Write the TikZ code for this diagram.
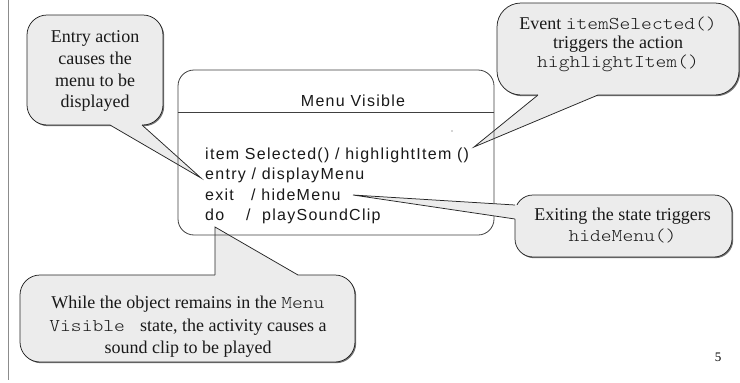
\documentclass[tikz,border=0pt]{standalone}
\usepackage{fontspec}
\setmainfont{Liberation Serif}
\setsansfont{Liberation Sans}
\setmonofont[FakeStretch=1.14]{lmmonolt10-regular.otf}
\newfontfamily\statefont[LetterSpace=8]{Liberation Sans}
\usetikzlibrary{calc,shadows}
\definecolor{calfill}{HTML}{ECECEC}
\definecolor{calline}{HTML}{262626}
\definecolor{stateline}{HTML}{404040}
\definecolor{marginline}{HTML}{8C8C8C}
\begin{document}
\begin{tikzpicture}[x=1pt,y=-1pt,
  calloutbox/.style={draw=calline, fill=calfill, line width=0.75pt, inner sep=0pt,
     drop shadow={shadow xshift=1.2pt, shadow yshift=-1.2pt, fill=black!55, opacity=1}},
  pointerline/.style={draw=calline, line width=0.75pt, line join=miter},
  caltext/.style={font=\fontsize{18}{21}\selectfont, anchor=base, inner sep=0pt, text=black!90},
  statetext/.style={font=\statefont\fontsize{16}{20}\selectfont, anchor=base west, inner sep=0pt, text=black!90},
  statebox/.style={draw=stateline, line width=0.8pt, rounded corners=16pt, inner sep=0pt},
]
\useasboundingbox (0,0) rectangle (740,383);
\fill[white] (0,0) rectangle (740,383);

% margin line
\coordinate (mtop) at (8,0);
\coordinate (mbot) at (8,380);
\draw[marginline, line width=0.9pt] (mtop) -- (mbot);

% ---- Entry callout
\node[calloutbox, rounded corners=20pt, minimum width=136pt, minimum height=110pt] (entrybox) at (95,70) {};
\coordinate (entrytip) at (201,178);
\coordinate (entryb1) at (110,125);
\coordinate (entryb2) at (142,125);
\fill[calfill] ($(entryb1)+(0,-3)$) -- (entryb1) -- (entrytip) -- (entryb2) -- ($(entryb2)+(0,-3)$) -- cycle;
\draw[pointerline] (entryb1) -- (entrytip) -- (entryb2);
\node[caltext] (en1) at (95,42.5) {Entry action};
\node[caltext] (en2) at (95,64.5) {causes the};
\node[caltext] (en3) at (95,86) {menu to be};
\node[caltext] (en4) at (95,107.5) {displayed};

% ---- Event callout
\node[calloutbox, rounded corners=24pt, minimum width=242pt, minimum height=92pt] (eventbox) at (618,49) {};
\coordinate (eventtip) at (474,147);
\coordinate (eventb1) at (538,95);
\coordinate (eventb2) at (598,95);
\fill[calfill] ($(eventb1)+(0,-3)$) -- (eventb1) -- (eventtip) -- (eventb2) -- ($(eventb2)+(0,-3)$) -- cycle;
\draw[pointerline] (eventb1) -- (eventtip) -- (eventb2);
\node[caltext] (ev1) at (618,29) {Event \texttt{itemSelected()}};
\node[caltext] (ev2) at (618,48) {triggers the action};
\node[caltext] (ev3) at (618,67) {\texttt{highlightItem()}};

% ---- Activity callout
\node[calloutbox, rounded corners=20pt, minimum width=335pt, minimum height=87pt] (dobox) at (187.5,318.5) {};
\coordinate (dotip) at (215,227);
\coordinate (dob1) at (215,275);
\coordinate (dob2) at (298,275);
\fill[calfill] ($(dob1)+(0,3)$) -- (dob1) -- (dotip) -- (dob2) -- ($(dob2)+(0,3)$) -- cycle;
\draw[pointerline] (dob1) -- (dotip) -- (dob2);
\node[caltext] (do1) at (188,308) {While the object remains in the \texttt{Menu}};
\node[caltext] (do2) at (188,331) {\texttt{Visible\ } state, the activity causes a};
\node[caltext] (do3) at (188,353) {sound clip to be played};

% ---- State
\node[statebox, minimum width=316pt, minimum height=165pt] (state) at (336,152.5) {};
\coordinate (divl) at ($(state.north west)+(0,43)$);
\coordinate (divr) at ($(state.north east)+(0,43)$);
\draw[stateline, line width=0.8pt] (divl) -- (divr);
\node[font=\statefont\fontsize{16}{20}\selectfont, anchor=base, inner sep=0pt, text=black!90] (title) at (353,106.5) {Menu Visible};
\fill[black!70] (452,131) circle (0.6pt);
\node[statetext] (l1) at (205,159) {item Selected() / highlightItem ()};
\node[statetext] (l2) at (205,179.5) {entry / displayMenu};
\node[statetext] (l3a) at (205,200) {exit};
\node[statetext] (l3b) at (251,200) {/ hideMenu};
\node[statetext] (l4a) at (205,220.5) {do};
\node[statetext] (l4b) at (246,220.5) {/\ \ playSoundClip};

% ---- Exit callout
\node[calloutbox, rounded corners=18pt, minimum width=217pt, minimum height=62pt] (exitbox) at (623.5,226) {};
\coordinate (exittip) at (353,195);
\coordinate (exitb1) at (515,205);
\coordinate (exitb2) at (515,219);
\fill[calfill] ($(exitb1)+(3,0)$) -- (exitb1) -- (exittip) -- (exitb2) -- ($(exitb2)+(3,0)$) -- cycle;
\draw[pointerline] (exitb1) -- (exittip) -- (exitb2);
\node[caltext] (ex1) at (622.5,220) {Exiting the state triggers};
\node[caltext] (ex2) at (622.5,241) {\texttt{hideMenu()}};

% page number
\node[font=\fontsize{13}{15}\selectfont, anchor=base, inner sep=0pt] (pg) at (718,361) {5};
\end{tikzpicture}
\end{document}
